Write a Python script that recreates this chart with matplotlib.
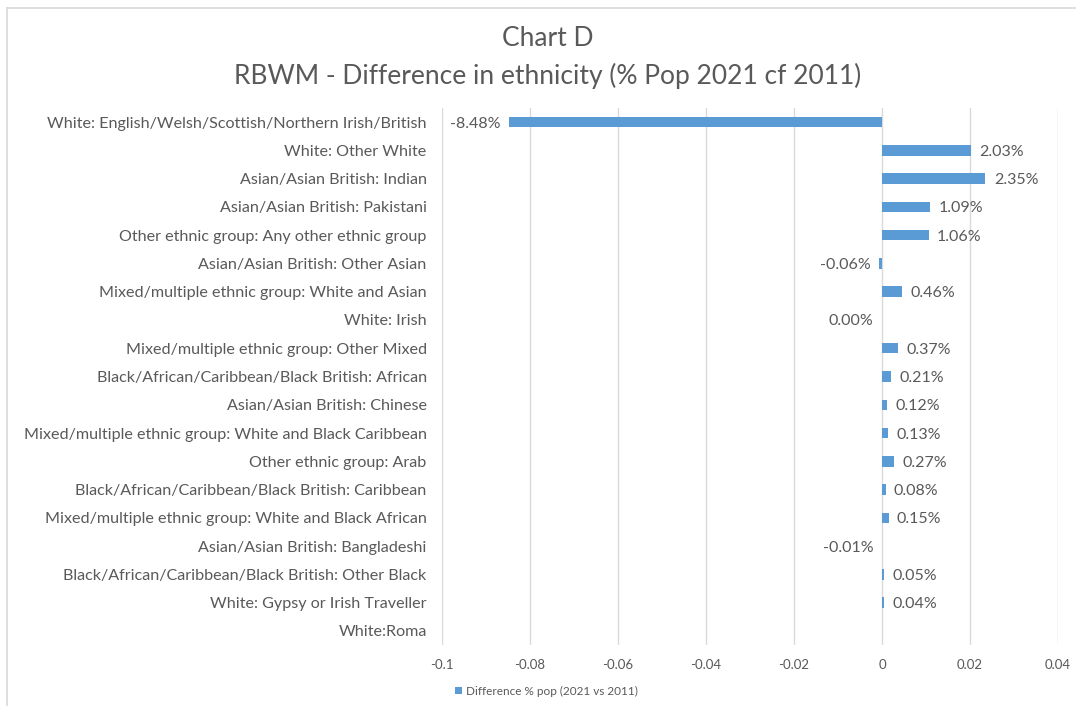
import numpy as np
import matplotlib
matplotlib.use("Agg")
import matplotlib.pyplot as plt
from matplotlib.lines import Line2D

plt.rcParams['font.family'] = ['Lato', 'DejaVu Sans']

categories = [
    "White: English/Welsh/Scottish/Northern Irish/British",
    "White: Other White",
    "Asian/Asian British: Indian",
    "Asian/Asian British: Pakistani",
    "Other ethnic group: Any other ethnic group",
    "Asian/Asian British: Other Asian",
    "Mixed/multiple ethnic group: White and Asian",
    "White: Irish",
    "Mixed/multiple ethnic group: Other Mixed",
    "Black/African/Caribbean/Black British: African",
    "Asian/Asian British: Chinese",
    "Mixed/multiple ethnic group: White and Black Caribbean",
    "Other ethnic group: Arab",
    "Black/African/Caribbean/Black British: Caribbean",
    "Mixed/multiple ethnic group: White and Black African",
    "Asian/Asian British: Bangladeshi",
    "Black/African/Caribbean/Black British: Other Black",
    "White: Gypsy or Irish Traveller",
    "White:Roma",
]
differences = [
    -0.0848, 0.0203, 0.0235, 0.0109, 0.0106, -0.0006, 0.0046, 0.0000,
    0.0037, 0.0021, 0.0012, 0.0013, 0.0027, 0.0008, 0.0015, -0.0001,
    0.0005, 0.0004, np.nan,
]
x_ticks = [-0.1, -0.08, -0.06, -0.04, -0.02, 0, 0.02, 0.04]
x_tick_labels = ["-0.1", "-0.08", "-0.06", "-0.04", "-0.02", "0", "0.02", "0.04"]
series_name = "Difference % pop (2021 vs 2011)"

BAR = "#5B9BD5"
TEXT = "#595959"
GRID = "#D9D9D9"

fig = plt.figure(figsize=(10.76, 7.06), dpi=100)
ax = fig.add_axes([0.4108, 0.0864, 0.5725, 0.7606])

y = np.arange(len(categories))
vals = np.array(differences, dtype=float)
bars = ax.barh(y, np.nan_to_num(vals), height=0.37, color=BAR,
               linewidth=0, label=series_name, zorder=3)

for yi, v in zip(y, vals):
    if np.isnan(v):
        continue
    txt = f"{v * 100:.2f}%"
    if v > 0:
        ax.annotate(txt, (v, yi), xytext=(6, 0), textcoords="offset points",
                    ha="left", va="center_baseline", fontsize=11.5, color=TEXT)
    else:
        ax.annotate(txt, (v, yi), xytext=(-6, 0), textcoords="offset points",
                    ha="right", va="center_baseline", fontsize=11.5, color=TEXT)

ax.set_xlim(-0.1, 0.04)
ax.set_ylim(len(categories) - 0.5, -0.5)
ax.set_xticks(x_ticks)
ax.set_xticklabels(x_tick_labels)
ax.set_yticks(y)
ax.set_yticklabels(categories, va="center_baseline")
ax.tick_params(axis="y", length=0, pad=11, labelsize=11.6, labelcolor=TEXT)
ax.tick_params(axis="x", length=0, pad=10, labelsize=9.5, labelcolor=TEXT)
ax.grid(axis="x", color=GRID, linewidth=1, zorder=0)
for s in ax.spines.values():
    s.set_visible(False)

fig.text(0.509, 0.945, "Chart D", ha="center", va="center", fontsize=19, color=TEXT)
fig.text(0.509, 0.893, "RBWM - Difference in ethnicity (% Pop 2021 cf 2011)",
         ha="center", va="center", fontsize=19, color=TEXT)

fig.legend(handles=[bars], labels=[series_name], loc="center left",
           bbox_to_anchor=(0.413, 0.021), frameon=False, fontsize=8.5,
           handlelength=0.6, handleheight=0.6, handletextpad=0.3,
           labelcolor=TEXT)

fig.add_artist(Line2D([0.0065, 0.0065], [0, 0.9887], color=GRID, linewidth=1.2,
                      transform=fig.transFigure))
fig.add_artist(Line2D([0.0065, 1], [0.9887, 0.9887], color=GRID, linewidth=1.2,
                      transform=fig.transFigure))

fig.savefig("out.png", dpi=100, facecolor="white")
